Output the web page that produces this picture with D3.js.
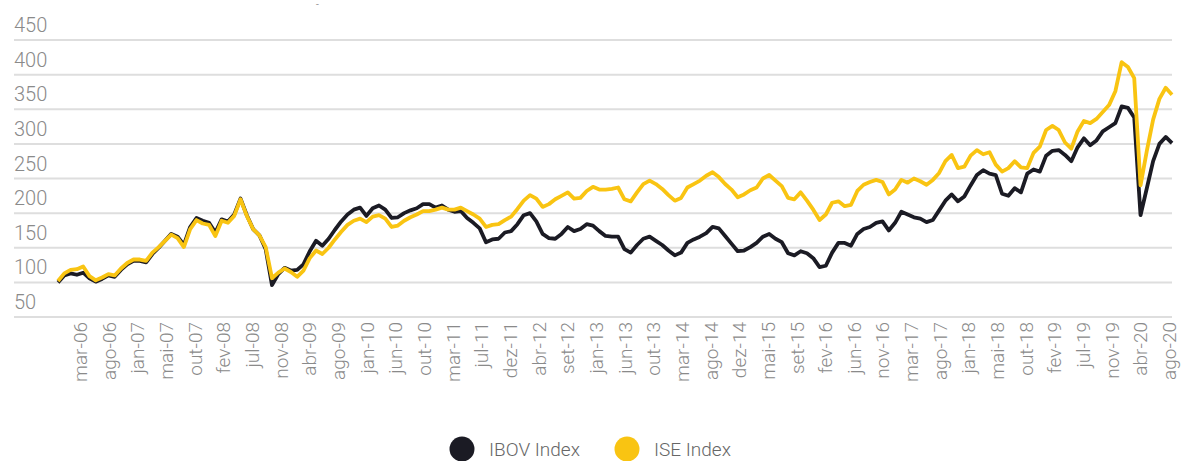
<!DOCTYPE html>
<html>
<head>
<meta charset="utf-8">
<script src="https://cdn.jsdelivr.net/npm/d3@7"></script>
<style>
  html, body { margin: 0; padding: 0; background: #fff; }
  svg { display: block; font-family: Roboto, "Open Sans", sans-serif; }
</style>
</head>
<body>
<svg id="chart" width="1183" height="461"></svg>
<script>
// Monthly samples, mid-Nov 2005 .. mid-Aug 2020 (index 0..177)
const ibov = [
  100,110,113,111,114,106,101,105,110,108,
  118,126,131,131,129,141,150,160,170,166,
  154,180,193,189,186,172,191,188,198,221,
  197,177,168,148,96,112,121,117,118,126,
  145,160,153,163,176,188,198,205,208,196,
  207,211,205,193,194,200,204,207,213,213,
  208,211,205,202,203,193,186,178,158,162,
  163,172,174,184,197,200,188,170,164,163,
  170,180,174,177,184,182,174,167,166,166,
  148,143,154,163,166,160,154,146,139,143,
  157,162,166,171,180,178,167,156,145,146,
  151,157,166,170,163,158,142,139,145,142,
  135,122,124,143,157,157,153,170,177,180,
  186,188,175,186,202,198,194,192,187,190,
  204,218,227,217,224,240,255,262,257,255,
  228,225,236,230,257,263,260,283,290,291,
  284,275,295,308,298,305,318,324,330,354,
  352,338,197,236,275,300,310,301
];
const ise = [
  102,113,118,119,123,109,103,107,112,110,
  120,128,133,133,131,143,151,160,169,164,
  151,177,190,185,183,167,189,186,196,220,
  196,177,168,151,106,114,120,115,108,117,
  135,146,141,150,162,173,183,189,192,187,
  195,197,192,180,182,189,194,198,203,203,
  205,208,205,205,208,203,198,192,180,183,
  184,190,195,206,218,226,221,209,213,220,
  225,230,221,222,232,238,234,234,235,237,
  220,217,230,242,247,242,235,226,218,222,
  237,242,247,254,259,252,242,234,223,227,
  233,237,250,255,247,239,222,220,230,218,
  205,190,198,215,217,210,212,232,241,245,
  248,245,227,234,248,244,250,246,241,248,
  258,275,284,265,267,283,291,285,288,270,
  260,265,275,266,265,287,296,320,326,320,
  302,293,318,333,330,336,346,356,376,418,
  411,395,240,290,335,365,381,371
];
const xTickLabels = [
  "mar-06","ago-06","jan-07","mai-07","out-07","fev-08","jul-08","nov-08","abr-09","ago-09",
  "jan-10","jun-10","out-10","mar-11","jul-11","dez-11","abr-12","set-12","jan-13","jun-13",
  "out-13","mar-14","ago-14","dez-14","mai-15","set-15","fev-16","jun-16","nov-16","mar-17",
  "ago-17","jan-18","mai-18","out-18","fev-19","jul-19","nov-19","abr-20","ago-20"
];
const yTicks = [50,100,150,200,250,300,350,400,450];
const seriesNames = ["IBOV Index","ISE Index"];
const seriesColors = ["#1b1b24","#f9c412"];

const svg = d3.select("#chart");

const x = d3.scaleLinear().domain([0, ibov.length - 1]).range([58, 1172]);
const y = d3.scaleLinear().domain([50, 450]).range([317, 40]);
// tick labels: first at 1 Mar 2006 (index 3.5), last at 1 Aug 2020 (index 176.5)
const xt = d3.scalePoint().domain(xTickLabels).range([x(3.5), x(176.5)]);

// gridlines
svg.append("g").selectAll("line").data(yTicks).join("line")
  .attr("x1", 14).attr("x2", 1172)
  .attr("y1", d => y(d)).attr("y2", d => y(d))
  .attr("stroke", "#dedede").attr("stroke-width", 2);

// y labels (drawn above their gridlines)
svg.append("g").selectAll("text").data(yTicks).join("text")
  .attr("x", 14).attr("y", d => y(d) - 15)
  .attr("dy", "0.35em")
  .attr("font-size", 20).attr("font-weight", 300)
  .attr("fill", "#8a8a8a")
  .text(d => d);

// x axis labels
const xAxis = svg.append("g").attr("transform", "translate(0,317)")
  .call(d3.axisBottom(xt).tickSize(0));
xAxis.select(".domain").remove();
xAxis.selectAll("text")
  .attr("transform", "rotate(-90)")
  .attr("x", -5).attr("y", 0).attr("dy", "0.35em")
  .attr("text-anchor", "end")
  .attr("font-size", 19).attr("font-weight", 300)
  .attr("font-family", "Roboto, sans-serif")
  .attr("fill", "#8a8a8a");

// lines
const line = d3.line().x((d, i) => x(i)).y(d => y(d));
[ibov, ise].forEach((s, k) => {
  svg.append("path").datum(s)
    .attr("fill", "none")
    .attr("stroke", seriesColors[k])
    .attr("stroke-width", 3.8)
    .attr("stroke-linejoin", "round")
    .attr("d", line);
});

// small mark at top
svg.append("text").attr("x", 316).attr("y", 8).attr("font-size", 10).attr("fill", "#999").text("-");

// legend
const legendX = [462, 627];
const lg = svg.append("g");
seriesNames.forEach((n, k) => {
  lg.append("circle").attr("cx", legendX[k]).attr("cy", 449).attr("r", 12.5).attr("fill", seriesColors[k]);
  lg.append("text").attr("x", legendX[k] + 27).attr("y", 449).attr("dy", "0.35em")
    .attr("font-size", 19).attr("font-weight", 300).attr("fill", "#666").text(n);
});
</script>
</body>
</html>
